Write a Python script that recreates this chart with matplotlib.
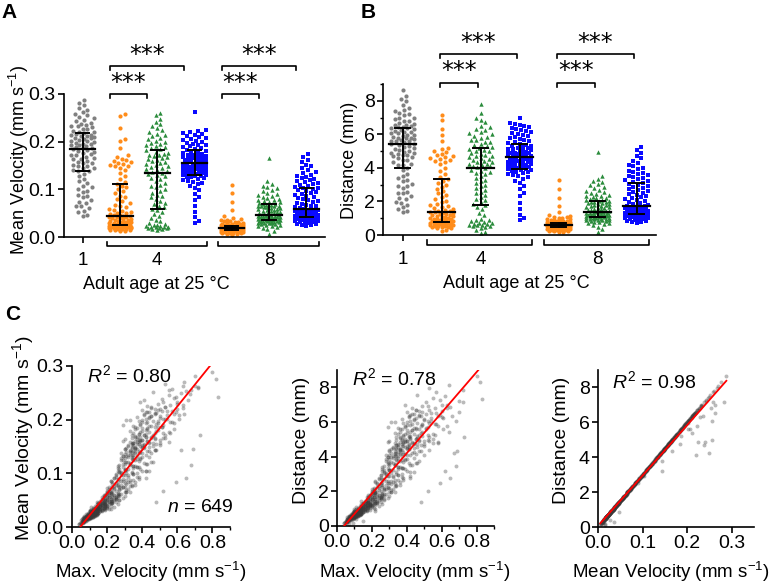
import numpy as np
import matplotlib
matplotlib.use("Agg")
import matplotlib.pyplot as plt
from matplotlib.transforms import blended_transform_factory

plt.rcParams['font.family'] = 'Liberation Sans'
plt.rcParams['mathtext.fontset'] = 'custom'
plt.rcParams['mathtext.rm'] = 'Liberation Sans'
plt.rcParams['mathtext.it'] = 'Liberation Sans:italic'
plt.rcParams['mathtext.default'] = 'regular'

# ---- data: one value per fly, groups in plotting order (age 1, age 4 x3, age 8 x3)
# mean velocity (mm/s)
vel_1 = [0.045, 0.047, 0.052, 0.055, 0.060, 0.064, 0.066, 0.071, 0.074, 0.077, 0.083, 0.085, 0.089, 0.094, 0.097, 0.101, 0.104, 0.108, 0.113, 0.117, 0.121, 0.128, 0.133,
         0.138, 0.139, 0.141, 0.144, 0.145, 0.148, 0.150, 0.152, 0.155, 0.156, 0.158, 0.160, 0.163, 0.164, 0.166, 0.168, 0.171, 0.172, 0.174, 0.177, 0.178, 0.181, 0.183,
         0.185,
         0.186, 0.187, 0.188, 0.190, 0.192, 0.193, 0.195, 0.196, 0.198, 0.199, 0.201, 0.202, 0.204, 0.205, 0.207, 0.208, 0.210, 0.211, 0.212, 0.214, 0.215, 0.216, 0.218,
         0.220, 0.221, 0.223, 0.226, 0.227, 0.230, 0.232, 0.233, 0.236, 0.238, 0.240, 0.243, 0.246, 0.249, 0.251, 0.255, 0.258, 0.262, 0.266, 0.270, 0.276, 0.282, 0.288]
vel_4a = [0.012, 0.013, 0.014, 0.014, 0.015, 0.016, 0.016, 0.017, 0.018, 0.018, 0.019, 0.019, 0.020, 0.020, 0.021, 0.021, 0.022, 0.022, 0.023, 0.023, 0.024, 0.024, 0.025,
          0.026, 0.026, 0.027, 0.027, 0.028, 0.029, 0.029, 0.030, 0.031, 0.031, 0.032, 0.033, 0.034, 0.035, 0.036, 0.037, 0.038, 0.039, 0.040, 0.041, 0.042, 0.043, 0.044,
          0.045,
          0.046, 0.047, 0.048, 0.050, 0.051, 0.053, 0.055, 0.057, 0.059, 0.062, 0.065, 0.068, 0.071, 0.075, 0.079, 0.083, 0.087, 0.092, 0.096, 0.100, 0.104, 0.108, 0.112,
          0.116, 0.121, 0.127, 0.134, 0.141, 0.145, 0.148, 0.149, 0.151, 0.153, 0.155, 0.157, 0.159, 0.161, 0.164, 0.167, 0.171, 0.187, 0.202, 0.206, 0.229, 0.254, 0.259]
vel_4b = [0.015, 0.016, 0.017, 0.018, 0.018, 0.019, 0.020, 0.021, 0.022, 0.022, 0.023, 0.024, 0.025, 0.026, 0.028, 0.030, 0.033, 0.036, 0.040, 0.044, 0.048, 0.052, 0.056,
          0.059, 0.062, 0.066, 0.069, 0.072, 0.076, 0.079, 0.083, 0.086, 0.089, 0.093, 0.097, 0.100, 0.104, 0.107, 0.110, 0.114, 0.117, 0.121, 0.124, 0.127, 0.130, 0.133,
          0.135,
          0.137, 0.139, 0.141, 0.143, 0.145, 0.147, 0.149, 0.151, 0.153, 0.155, 0.157, 0.159, 0.161, 0.163, 0.165, 0.167, 0.169, 0.171, 0.173, 0.175, 0.177, 0.179, 0.182,
          0.184, 0.186, 0.188, 0.190, 0.193, 0.195, 0.197, 0.200, 0.202, 0.205, 0.208, 0.211, 0.214, 0.217, 0.220, 0.224, 0.228, 0.232, 0.237, 0.242, 0.248, 0.255, 0.261]
vel_4c = [0.030, 0.033, 0.041, 0.052, 0.064, 0.078, 0.084, 0.091, 0.098, 0.103, 0.107, 0.111, 0.114, 0.116, 0.118, 0.120, 0.122, 0.124, 0.125, 0.126, 0.128, 0.129, 0.130,
          0.131, 0.132, 0.133, 0.134, 0.135, 0.136, 0.137, 0.138, 0.139, 0.140, 0.141, 0.142, 0.143, 0.144, 0.145, 0.146, 0.147, 0.148, 0.149, 0.150, 0.151, 0.152, 0.154,
          0.155, 0.156, 0.157, 0.158, 0.159, 0.160, 0.161, 0.162, 0.163, 0.164, 0.165, 0.166, 0.167, 0.168, 0.170, 0.171, 0.172, 0.173, 0.175, 0.176, 0.177, 0.179, 0.181,
          0.183, 0.185, 0.187, 0.188, 0.190, 0.192, 0.194, 0.196, 0.198, 0.200, 0.202, 0.204, 0.206, 0.208, 0.210, 0.212, 0.214, 0.216, 0.218, 0.220, 0.222, 0.224, 0.263]
vel_8a = [0.005, 0.006, 0.007, 0.008, 0.008, 0.009, 0.009, 0.010, 0.010, 0.011, 0.011, 0.011, 0.012, 0.012, 0.012, 0.013, 0.013, 0.013, 0.014, 0.014, 0.014, 0.015, 0.015,
          0.015, 0.015, 0.016, 0.016, 0.016, 0.016, 0.017, 0.017, 0.017, 0.017, 0.017, 0.018, 0.018, 0.018, 0.018, 0.018, 0.018, 0.019, 0.019, 0.019, 0.019, 0.019, 0.019,
          0.019,
          0.020, 0.020, 0.020, 0.020, 0.020, 0.021, 0.021, 0.021, 0.021, 0.021, 0.022, 0.022, 0.022, 0.022, 0.022, 0.023, 0.023, 0.023, 0.023, 0.023, 0.024, 0.024, 0.024,
          0.025, 0.025, 0.026, 0.026, 0.027, 0.027, 0.028, 0.028, 0.029, 0.030, 0.031, 0.032, 0.033, 0.034, 0.035, 0.036, 0.038, 0.040, 0.045, 0.057, 0.074, 0.092, 0.110]
vel_8b = [0.006, 0.012, 0.016, 0.019, 0.021, 0.023, 0.024, 0.025, 0.026, 0.027, 0.028, 0.029, 0.029, 0.030, 0.030, 0.031, 0.031, 0.032, 0.032, 0.033, 0.033, 0.034, 0.034,
          0.035, 0.035, 0.036, 0.036, 0.037, 0.037, 0.038, 0.038, 0.039, 0.039, 0.040, 0.040, 0.041, 0.041, 0.042, 0.042, 0.043, 0.043, 0.044, 0.044, 0.045, 0.045, 0.046,
          0.047, 0.048, 0.049, 0.050, 0.051, 0.052, 0.053, 0.054, 0.055, 0.056, 0.057, 0.058, 0.059, 0.060, 0.061, 0.062, 0.063, 0.064, 0.065, 0.066, 0.066, 0.067, 0.068,
          0.069, 0.070, 0.071, 0.073, 0.074, 0.075, 0.077, 0.078, 0.080, 0.082, 0.084, 0.086, 0.088, 0.090, 0.093, 0.096, 0.099, 0.102, 0.105, 0.108, 0.112, 0.117, 0.165]
vel_8c = [0.024, 0.025, 0.026, 0.027, 0.028, 0.029, 0.030, 0.031, 0.032, 0.033, 0.033, 0.034, 0.035, 0.035, 0.036, 0.037, 0.037, 0.038, 0.039, 0.039, 0.040, 0.041, 0.041,
          0.042, 0.043, 0.043, 0.044, 0.044, 0.045, 0.046, 0.046, 0.047, 0.048, 0.048, 0.049, 0.050, 0.050, 0.051, 0.052, 0.053, 0.053, 0.054, 0.055, 0.056, 0.056, 0.057,
          0.058,
          0.060, 0.062, 0.064, 0.066, 0.068, 0.070, 0.072, 0.074, 0.076, 0.078, 0.080, 0.082, 0.084, 0.086, 0.088, 0.090, 0.092, 0.094, 0.096, 0.098, 0.100, 0.102, 0.103,
          0.105, 0.107, 0.109, 0.111, 0.113, 0.115, 0.117, 0.119, 0.121, 0.123, 0.125, 0.128, 0.131, 0.134, 0.137, 0.140, 0.144, 0.148, 0.152, 0.157, 0.162, 0.168, 0.175]

# distance walked (mm), same flies / same order
dist_1 = [1.36, 1.42, 1.55, 1.66, 1.80, 1.93, 1.98, 2.14, 2.20, 2.33, 2.50, 2.56, 2.50, 2.83, 2.92, 3.04, 2.90, 3.25, 3.40, 3.52, 3.64, 3.85, 4.00,
          4.15, 4.18, 4.25, 3.20, 4.36, 4.45, 4.50, 4.57, 4.66, 4.69, 4.75, 4.81, 4.90, 4.93, 4.99, 5.05, 5.14, 5.17, 5.23, 5.32, 5.35, 5.44, 4.76,
          5.56,
          5.59, 5.62, 5.65, 5.71, 5.77, 5.80, 5.86, 5.89, 5.95, 5.98, 5.59, 6.07, 6.13, 6.16, 6.22, 6.25, 5.40, 6.34, 6.37, 6.43, 6.46, 6.49, 6.55,
          6.61, 5.78, 6.70, 6.79, 6.82, 6.91, 6.97, 7.00, 6.36, 7.15, 4.87, 7.30, 7.39, 7.48, 7.54, 6.07, 7.75, 6.55, 7.99, 8.11, 8.29, 7.19, 8.64]
dist_4a = [0.21, 0.30, 0.42, 0.43, 0.45, 0.48, 0.49, 0.51, 0.54, 0.55, 0.57, 0.58, 0.60, 0.61, 0.63, 0.64, 0.66, 0.67, 0.69, 0.70, 0.72, 0.73, 0.75,
           0.78, 0.79, 0.81, 0.82, 0.84, 0.87, 0.88, 0.90, 0.93, 0.94, 0.96, 0.99, 1.02, 1.05, 1.08, 1.11, 1.14, 1.17, 1.20, 1.23, 1.26, 1.29, 1.32,
           1.35,
           1.38, 1.41, 1.44, 1.50, 1.53, 1.59, 1.65, 1.71, 1.77, 1.86, 1.95, 2.04, 2.13, 2.25, 2.37, 2.49, 2.61, 2.76, 2.88, 3.00, 3.12, 3.24, 3.36,
           3.48, 3.63, 3.81, 4.02, 4.23, 4.35, 4.44, 4.47, 4.53, 4.59, 4.65, 4.71, 4.77, 4.83, 4.92, 5.01, 5.13, 5.20, 5.95, 5.60, 6.30, 6.85, 7.15]
dist_4b = [0.10, 0.19, 0.50, 0.53, 0.55, 0.57, 0.60, 0.62, 0.65, 0.67, 0.69, 0.71, 0.75, 0.39, 0.83, 0.90, 0.98, 0.29, 1.20, 1.31, 0.87, 1.55, 1.68,
           1.77, 1.85, 1.98, 2.06, 2.16, 2.27, 2.37, 2.48, 2.58, 2.66, 2.79, 2.90, 3.00, 3.11, 3.21, 3.29, 3.42, 3.50, 3.63, 3.71, 3.81, 3.89, 3.99,
           4.05,
           4.11, 4.16, 4.23, 3.76, 4.35, 4.40, 4.47, 4.52, 4.59, 4.64, 4.71, 4.76, 4.83, 4.88, 4.37, 5.01, 5.06, 5.13, 5.18, 5.25, 5.30, 5.37, 5.45,
           5.52, 5.57, 5.64, 5.69, 5.79, 5.84, 5.91, 6.00, 6.05, 6.15, 6.23, 6.33, 6.41, 6.51, 4.10, 6.71, 6.83, 6.95, 4.72, 7.25, 4.24, 5.00, 7.82]
dist_4c = [0.90, 0.99, 1.22, 1.57, 1.93, 2.35, 2.53, 2.74, 2.95, 3.10, 3.22, 3.35, 3.43, 3.50, 3.55, 3.62, 3.67, 3.74, 3.77, 3.80, 3.86, 3.89, 3.92,
           3.95, 3.98, 4.01, 4.04, 4.07, 4.10, 4.13, 4.16, 4.19, 4.22, 4.25, 4.28, 4.31, 4.34, 4.37, 4.40, 4.43, 4.46, 4.49, 4.52, 4.55, 4.58, 4.64,
           4.67, 4.70, 4.73, 4.76, 4.79, 4.82, 4.85, 4.88, 4.91, 4.94, 4.97, 5.00, 5.03, 5.06, 5.12, 5.15, 5.18, 5.21, 5.27, 5.30, 5.33, 5.39, 5.45,
           5.51, 5.57, 5.63, 5.66, 5.72, 5.78, 5.84, 5.90, 5.96, 6.02, 6.08, 6.14, 6.20, 6.26, 6.32, 6.38, 6.44, 6.50, 6.56, 6.62, 6.68, 4.90, 7.00]
dist_8a = [0.16, 0.19, 0.22, 0.24, 0.25, 0.27, 0.28, 0.30, 0.31, 0.33, 0.34, 0.35, 0.36, 0.37, 0.38, 0.39, 0.40, 0.41, 0.42, 0.43, 0.44, 0.45, 0.46,
           0.45, 0.47, 0.48, 0.49, 0.50, 0.50, 0.51, 0.52, 0.52, 0.53, 0.53, 0.54, 0.55, 0.55, 0.56, 0.56, 0.57, 0.57, 0.58, 0.58, 0.59, 0.59, 0.60,
           0.60,
           0.60, 0.61, 0.61, 0.62, 0.62, 0.63, 0.64, 0.64, 0.65, 0.65, 0.66, 0.67, 0.67, 0.68, 0.68, 0.69, 0.70, 0.70, 0.71, 0.71, 0.72, 0.73, 0.74,
           0.75, 0.76, 0.78, 0.79, 0.81, 0.82, 0.84, 0.85, 0.87, 0.90, 0.93, 0.96, 0.99, 1.02, 1.05, 1.08, 1.14, 1.20, 1.35, 1.71, 2.22, 2.76, 3.30]
dist_8b = [0.17, 0.36, 0.48, 0.57, 0.63, 0.69, 0.72, 0.75, 0.78, 0.81, 0.84, 0.87, 0.88, 0.90, 0.91, 0.93, 0.94, 0.96, 0.97, 0.99, 1.00, 1.02, 1.03,
           1.05, 1.06, 1.08, 1.09, 1.11, 1.12, 1.14, 1.15, 1.17, 1.18, 1.20, 1.21, 1.23, 1.24, 1.26, 1.27, 1.29, 1.30, 1.32, 1.33, 1.35, 1.36, 1.38,
           1.41, 1.44, 1.47, 1.50, 1.53, 1.56, 1.59, 1.62, 1.65, 1.68, 1.71, 1.74, 1.77, 1.80, 1.83, 1.86, 1.89, 1.92, 1.95, 1.98, 1.99, 2.01, 2.04,
           2.07, 2.10, 2.13, 2.19, 2.22, 2.25, 2.31, 2.34, 2.40, 2.46, 2.52, 2.58, 2.64, 2.70, 2.79, 2.88, 2.97, 3.06, 3.15, 3.24, 3.36, 3.51, 4.95]
dist_8c = [0.72, 0.75, 0.78, 0.81, 0.84, 0.87, 0.90, 0.93, 0.96, 0.99, 1.00, 1.02, 1.05, 1.06, 1.08, 1.11, 1.12, 1.14, 1.17, 1.18, 1.20, 1.23, 1.24,
           1.26, 1.29, 1.30, 1.32, 1.33, 1.35, 1.38, 1.39, 1.41, 1.44, 1.45, 1.47, 1.50, 1.51, 1.53, 1.56, 1.59, 1.60, 1.62, 1.65, 1.68, 1.69, 1.71,
           1.74,
           1.80, 1.86, 1.92, 1.98, 2.04, 2.10, 2.16, 2.22, 2.28, 2.34, 2.40, 2.46, 2.52, 2.58, 2.64, 2.70, 2.76, 2.82, 2.88, 2.94, 3.00, 3.06, 3.09,
           3.15, 3.21, 3.27, 3.33, 3.39, 3.45, 3.51, 3.57, 3.63, 3.69, 3.75, 3.84, 3.93, 4.02, 4.11, 4.20, 4.32, 4.44, 4.56, 4.71, 4.86, 5.04, 5.25]

# maximum velocity (mm/s), same flies / same order
vmax_1 = [0.19, 0.14, 0.22, 0.17, 0.26, 0.20, 0.31, 0.21, 0.27, 0.24, 0.33, 0.22, 0.29, 0.37, 0.25, 0.31, 0.42, 0.27, 0.35, 0.30, 0.46, 0.34, 0.29,
          0.38, 0.33, 0.44, 0.62, 0.36, 0.31, 0.40, 0.35, 0.48, 0.34, 0.37, 0.43, 0.39, 0.30, 0.52, 0.36, 0.41, 0.46, 0.38, 0.55, 0.33, 0.42, 0.58,
          0.40,
          0.47, 0.36, 0.44, 0.52, 0.39, 0.49, 0.43, 0.57, 0.38, 0.31, 0.61, 0.42, 0.50, 0.37, 0.45, 0.54, 0.64, 0.41, 0.48, 0.59, 0.44, 0.51, 0.40,
          0.47, 0.63, 0.53, 0.43, 0.56, 0.49, 0.60, 0.39, 0.66, 0.51, 0.58, 0.83, 0.55, 0.62, 0.46, 0.68, 0.57, 0.70, 0.53, 0.64, 0.82, 0.70, 0.80]
vmax_4a = [0.06, 0.05, 0.07, 0.055, 0.08, 0.065, 0.09, 0.07, 0.10, 0.075, 0.085, 0.11, 0.08, 0.095, 0.12, 0.09, 0.10, 0.13, 0.085, 0.11, 0.14, 0.095, 0.12,
           0.10, 0.13, 0.11, 0.15, 0.12, 0.17, 0.10, 0.14, 0.19, 0.12, 0.16, 0.13, 0.21, 0.15, 0.18, 0.14, 0.24, 0.16, 0.20, 0.17, 0.26, 0.19, 0.15,
           0.22,
           0.48, 0.18, 0.23, 0.20, 0.27, 0.25, 0.21, 0.30, 0.24, 0.22, 0.33, 0.52, 0.27, 0.29, 0.36, 0.59, 0.31, 0.65, 0.28, 0.34, 0.44, 0.30, 0.37,
           0.68, 0.32, 0.39, 0.35, 0.43, 0.69, 0.41, 0.36, 0.46, 0.40, 0.34, 0.44, 0.55, 0.39, 0.47, 0.42, 0.73, 0.49, 0.53, 0.45, 0.60, 0.65, 0.72]
vmax_4b = [0.07, 0.09, 0.06, 0.10, 0.08, 0.12, 0.07, 0.11, 0.09, 0.13, 0.10, 0.08, 0.14, 0.11, 0.12, 0.16, 0.13, 0.15, 0.19, 0.17, 0.22, 0.20, 0.25,
           0.18, 0.27, 0.22, 0.31, 0.20, 0.26, 0.34, 0.23, 0.29, 0.38, 0.25, 0.32, 0.28, 0.42, 0.30, 0.26, 0.35, 0.33, 0.45, 0.29, 0.37, 0.40, 0.31,
           0.34,
           0.28, 0.39, 0.33, 0.47, 0.30, 0.36, 0.41, 0.32, 0.50, 0.38, 0.35, 0.44, 0.29, 0.40, 0.53, 0.37, 0.46, 0.34, 0.42, 0.56, 0.39, 0.48, 0.36,
           0.43, 0.51, 0.35, 0.29, 0.58, 0.40, 0.49, 0.33, 0.54, 0.44, 0.61, 0.47, 0.42, 0.57, 0.50, 0.45, 0.63, 0.52, 0.41, 0.59, 0.67, 0.55, 0.72]
vmax_4c = [0.14, 0.22, 0.19, 0.25, 0.21, 0.28, 0.32, 0.24, 0.35, 0.27, 0.30, 0.38, 0.26, 0.33, 0.29, 0.41, 0.31, 0.28, 0.36, 0.34, 0.30, 0.39, 0.32,
           0.35, 0.29, 0.37, 0.33, 0.42, 0.30, 0.36, 0.45, 0.34, 0.31, 0.38, 0.35, 0.48, 0.33, 0.37, 0.30, 0.40, 0.36, 0.44, 0.34, 0.39, 0.32, 0.37,
           0.41, 0.35, 0.46, 0.38, 0.33, 0.43, 0.36, 0.50, 0.40, 0.37, 0.34, 0.45, 0.39, 0.42, 0.36, 0.53, 0.41, 0.38, 0.47, 0.35, 0.44, 0.40, 0.49,
           0.43, 0.37, 0.51, 0.45, 0.39, 0.48, 0.42, 0.56, 0.46, 0.40, 0.52, 0.44, 0.50, 0.41, 0.58, 0.47, 0.43, 0.54, 0.49, 0.60, 0.45, 0.53, 0.63]
vmax_8a = [0.04, 0.05, 0.045, 0.06, 0.05, 0.065, 0.055, 0.07, 0.06, 0.075, 0.065, 0.055, 0.08, 0.07, 0.06, 0.085, 0.075, 0.065, 0.09, 0.07, 0.08, 0.095, 0.075,
           0.085, 0.07, 0.10, 0.08, 0.09, 0.075, 0.105, 0.085, 0.095, 0.08, 0.11, 0.09, 0.075, 0.10, 0.085, 0.115, 0.095, 0.08, 0.105, 0.09, 0.12, 0.085, 0.10,
           0.095,
           0.11, 0.085, 0.10, 0.125, 0.09, 0.105, 0.115, 0.095, 0.13, 0.10, 0.11, 0.09, 0.12, 0.105, 0.135, 0.095, 0.115, 0.125, 0.10, 0.14, 0.11, 0.12, 0.105,
           0.13, 0.115, 0.145, 0.12, 0.135, 0.15, 0.125, 0.14, 0.16, 0.13, 0.17, 0.145, 0.155, 0.18, 0.14, 0.20, 0.165, 0.19, 0.23, 0.26, 0.30, 0.42, 0.35]
vmax_8b = [0.04, 0.06, 0.08, 0.07, 0.10, 0.085, 0.11, 0.09, 0.12, 0.095, 0.13, 0.10, 0.115, 0.14, 0.105, 0.12, 0.15, 0.11, 0.135, 0.16, 0.12, 0.145, 0.13,
           0.17, 0.125, 0.15, 0.18, 0.135, 0.16, 0.14, 0.19, 0.15, 0.17, 0.20, 0.145, 0.18, 0.16, 0.21, 0.155, 0.19, 0.17, 0.22, 0.16, 0.20, 0.175, 0.23,
           0.18, 0.21, 0.165, 0.24, 0.19, 0.22, 0.175, 0.25, 0.20, 0.23, 0.185, 0.27, 0.21, 0.24, 0.195, 0.28, 0.22, 0.26, 0.20, 0.30, 0.23, 0.25, 0.21,
           0.27, 0.22, 0.32, 0.24, 0.29, 0.23, 0.34, 0.26, 0.31, 0.25, 0.36, 0.28, 0.33, 0.26, 0.38, 0.30, 0.35, 0.27, 0.40, 0.32, 0.37, 0.43, 0.47]
vmax_8c = [0.10, 0.13, 0.09, 0.15, 0.11, 0.14, 0.12, 0.17, 0.10, 0.16, 0.13, 0.19, 0.12, 0.15, 0.18, 0.11, 0.14, 0.20, 0.16, 0.13, 0.22, 0.15, 0.17,
           0.14, 0.19, 0.16, 0.23, 0.18, 0.15, 0.21, 0.17, 0.25, 0.19, 0.16, 0.22, 0.18, 0.27, 0.20, 0.17, 0.24, 0.19, 0.29, 0.21, 0.18, 0.25, 0.20,
           0.23,
           0.19, 0.26, 0.22, 0.31, 0.20, 0.24, 0.28, 0.21, 0.33, 0.25, 0.23, 0.30, 0.26, 0.22, 0.35, 0.27, 0.24, 0.32, 0.29, 0.25, 0.37, 0.28, 0.34,
           0.26, 0.31, 0.39, 0.29, 0.36, 0.27, 0.42, 0.33, 0.30, 0.38, 0.35, 0.28, 0.44, 0.32, 0.40, 0.36, 0.47, 0.34, 0.41, 0.50, 0.38, 0.45, 0.52]

mean_vel = [vel_1, vel_4a, vel_4b, vel_4c, vel_8a, vel_8b, vel_8c]
distance = [dist_1, dist_4a, dist_4b, dist_4c, dist_8a, dist_8b, dist_8c]
max_vel = [vmax_1, vmax_4a, vmax_4b, vmax_4c, vmax_8a, vmax_8b, vmax_8c]

age_ticks = [1, 3, 6]
age_labels = ['1', '4', '8']
age_spans = [(2, 4), (5, 7)]
comparisons = [(2, 3), (2, 4), (5, 6), (5, 7)]
r2_labels = ['0.80', '0.78', '0.98']
n_label = '649'

colors = ['#808080', '#ff8c1a', '#2b8c3c', '#0a0aff', '#ff8c1a', '#2b8c3c', '#0a0aff']
markers = ['o', 'o', '^', 's', 'o', '^', 's']
sizes = [9, 9, 10, 7, 9, 10, 7]

W, H = 775, 585
fig = plt.figure(figsize=(W / 100, H / 100), dpi=100)


def px_axes(left, top, right, bottom):
    return fig.add_axes([left / W, 1 - bottom / H, (right - left) / W, (bottom - top) / H])


def fx(x):
    return x / W


def fy(y):
    return 1 - y / H


def swarm(vals, ypx, xpx, gap=4.8, half=11.5):
    # simple beeswarm: place points in order of value, closest free slot to the centre
    y = np.asarray(vals, float) * ypx
    step = gap / 3.0
    cand = [0.0]
    k = 1
    while k * step <= half:
        cand += [k * step, -k * step]
        k += 1
    cand = np.array(cand)
    off = np.zeros(len(y))
    px_, py_ = [], []
    for i in np.argsort(y, kind='stable'):
        j = 0
        if px_:
            P = np.array(px_)
            Q = np.array(py_)
            near = np.abs(Q - y[i]) < gap
            if near.any():
                d2 = (cand[:, None] - P[near][None, :]) ** 2 + (y[i] - Q[near][None, :]) ** 2
                mind = d2.min(axis=1)
                ok = np.where(mind >= gap ** 2)[0]
                j = ok[0] if len(ok) else int(np.argmax(mind))
        off[i] = cand[j]
        px_.append(cand[j])
        py_.append(y[i])
    return off / xpx


def style(ax, fs):
    for s in ['top', 'right']:
        ax.spines[s].set_visible(False)
    for s in ['left', 'bottom']:
        ax.spines[s].set_linewidth(1.2)
    ax.tick_params(direction='out', length=4, width=1.2, labelsize=fs, pad=2)
    ax.tick_params(which='minor', direction='out', length=2.5, width=1.0)


def dot_panel(ax, data, ypx, xpx, ylim, yticks, ylabels, minor, med_w, cap_w,
              br_levels, star_levels, br_tick, br_shift):
    style(ax, 14)
    ax.set_xlim(0.5, 7.5)
    ax.set_ylim(*ylim)
    ax.set_yticks(yticks)
    ax.set_yticklabels(ylabels)
    if minor is not None:
        ax.set_yticks(minor, minor=True)
    ax.set_xticks([1])
    ax.set_xticklabels([])
    for i, vals in enumerate(data):
        pos = i + 1
        off = swarm(vals, ypx, xpx)
        ax.scatter(pos + off, vals, s=sizes[i], c=colors[i], marker=markers[i],
                   linewidths=0, clip_on=False, zorder=2)
        med = np.median(vals)
        q1, q3 = np.percentile(vals, [25, 75])
        ax.plot([pos - med_w, pos + med_w], [med, med], color='k', lw=1.6, zorder=3)
        ax.plot([pos, pos], [q1, q3], color='k', lw=1.4, zorder=3)
        for q in (q1, q3):
            ax.plot([pos - cap_w, pos + cap_w], [q, q], color='k', lw=1.4, zorder=3)
    trans = blended_transform_factory(ax.transData, ax.transAxes)
    for a, b in age_spans:
        ax.plot([a - 0.36, a - 0.36, b + 0.33, b + 0.33], [-0.035, -0.065, -0.065, -0.035],
                color='k', lw=1.2, transform=trans, clip_on=False)
    for x, lab in zip(age_ticks, age_labels):
        ax.text(x, -0.165, lab, transform=trans, ha='center', va='center', fontsize=13.5)
    # significance brackets
    for k, (a, b) in enumerate(comparisons):
        lev = br_levels[k % 2]
        x0, x1 = a + br_shift[0], b + br_shift[1]
        ax.plot([x0, x0, x1, x1], [lev - br_tick, lev, lev, lev - br_tick],
                color='k', lw=1.2, clip_on=False)
        ax.text((x0 + x1) / 2, star_levels[k % 2], '***', family='DejaVu Sans',
                fontsize=17, ha='center', va='center')


# ---- panel A
axA = px_axes(64, 94, 325, 237)
dot_panel(axA, mean_vel, 477, 37.3, (0, 0.3), [0, 0.1, 0.2, 0.3], ['0.0', '0.1', '0.2', '0.3'],
          None, 0.34, 0.18, (0.3, 0.358), (0.323, 0.381), 0.008, (-0.27, -0.28))
axA.text(0.355, -0.33, 'Adult age at 25 °C', transform=axA.transAxes, ha='center', va='center', fontsize=13)
fig.text(fx(19), fy(160), 'Mean Velocity (mm s$^{-1}$)', rotation=90, ha='center', va='center', fontsize=13)

# ---- panel B
axB = px_axes(383, 84, 656, 235)
dot_panel(axB, distance, 16.8, 39, (0, 9), [0, 2, 4, 6, 8], ['0', '2', '4', '6', '8'],
          [1, 3, 5, 7, 9], 0.34, 0.2, (9.05, 10.77), (9.78, 11.45), 0.25, (-0.05, -0.07))
axB.text(0.487, -0.318, 'Adult age at 25 °C', transform=axB.transAxes, ha='center', va='center', fontsize=13)
fig.text(fx(349), fy(160), 'Distance (mm)', rotation=90, ha='center', va='center', fontsize=13)

# ---- panel C
all_vel = np.concatenate(mean_vel)
all_dist = np.concatenate(distance)
all_max = np.concatenate(max_vel)

pairs = [(all_max, all_vel), (all_max, all_dist), (all_vel, all_dist)]
boxes = [(72, 366, 230, 527), (337, 370, 494, 526), (598, 370, 754, 527)]
xlims = [(0, 0.9), (0, 0.9), (0, 0.35)]
ylims = [(0, 0.3), (0, 9), (0, 9)]
xt = [[0, 0.2, 0.4, 0.6, 0.8], [0, 0.2, 0.4, 0.6, 0.8], [0, 0.1, 0.2, 0.3]]
yt = [[0, 0.1, 0.2, 0.3], [0, 2, 4, 6, 8], [0, 2, 4, 6, 8]]
xlabs = ['Max. Velocity (mm s$^{-1}$)', 'Max. Velocity (mm s$^{-1}$)', 'Mean Velocity (mm s$^{-1}$)']
xlab_x = [151, 415, 671]
ylabs = ['Mean Velocity (mm s$^{-1}$)', 'Distance (mm)', 'Distance (mm)']
ylab_x = [23, 301, 561]
r2_pos = [(87, 375), (352, 378), (612, 381)]

for k in range(3):
    l, t, r, b = boxes[k]
    ax = px_axes(l, t, r, b)
    style(ax, 14)
    x, y = pairs[k]
    ax.scatter(x, y, s=8, c='#3a3a3a', alpha=0.35, linewidths=0, clip_on=False, zorder=2)
    slope, icpt = np.polyfit(x, y, 1)
    xs = np.array([x.min(), x.max()])
    ax.plot(xs, slope * xs + icpt, color='#ff0000', lw=1.3, zorder=3)
    ax.set_xlim(*xlims[k])
    ax.set_ylim(*ylims[k])
    ax.set_xticks(xt[k])
    ax.set_xticklabels(['%.1f' % v for v in xt[k]])
    ax.set_yticks(yt[k])
    ax.set_yticklabels(['%.1f' % v for v in yt[k]] if k == 0 else ['%d' % v for v in yt[k]])
    if k < 2:
        ax.set_xticks([0.1, 0.3, 0.5, 0.7, 0.9], minor=True)
    fig.text(fx(xlab_x[k]), fy(578), xlabs[k], ha='center', va='baseline', fontsize=13.5)
    fig.text(fx(ylab_x[k]), fy((t + b) / 2 - 8), ylabs[k], rotation=90, ha='center', va='center', fontsize=14)
    fig.text(fx(r2_pos[k][0]), fy(r2_pos[k][1]), '$\\it{R}^{2}$ = ' + r2_labels[k],
             ha='left', va='center', fontsize=14)

fig.text(fx(167), fy(508), '$\\it{n}$ = ' + n_label, ha='left', va='center', fontsize=14)

# panel letters
fig.text(fx(9), fy(12), 'A', fontsize=15, fontweight='bold', ha='center', va='center')
fig.text(fx(368), fy(12), 'B', fontsize=15, fontweight='bold', ha='center', va='center')
fig.text(fx(13), fy(315), 'C', fontsize=15, fontweight='bold', ha='center', va='center')

fig.savefig('out.png', dpi=100)
